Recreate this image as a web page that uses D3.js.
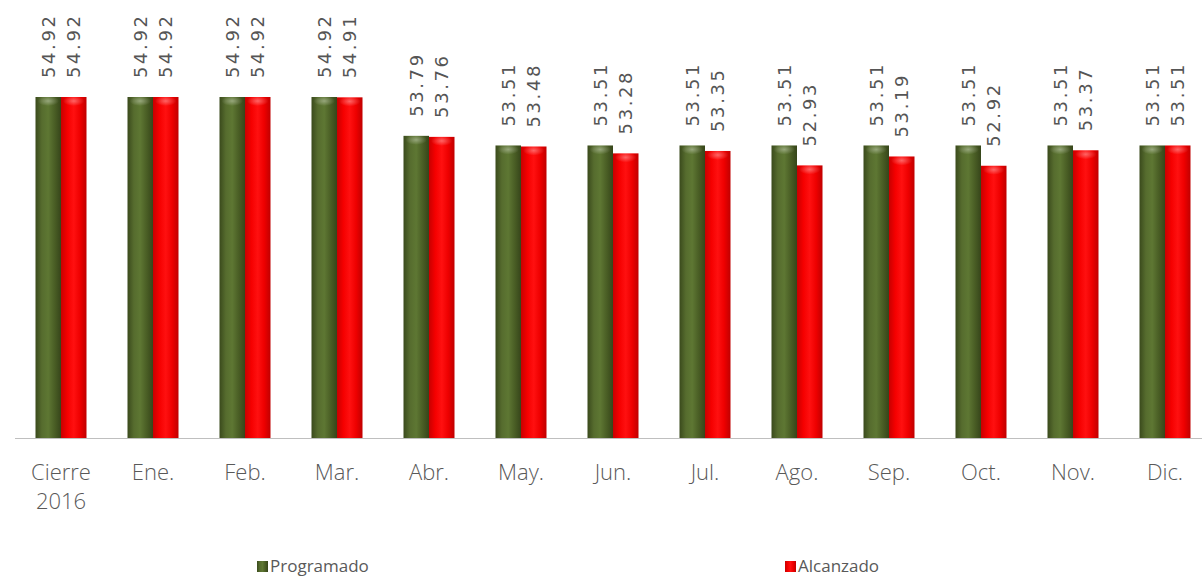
<!DOCTYPE html>
<html>
<head>
<meta charset="utf-8">
<script src="https://cdn.jsdelivr.net/npm/d3@7"></script>
<style>
  body { margin: 0; background: #fff; }
  svg { display: block; }
</style>
</head>
<body>
<div class="chart"></div>
<script>
// chart data
const categories = ["Cierre\n2016", "Ene.", "Feb.", "Mar.", "Abr.", "May.", "Jun.", "Jul.", "Ago.", "Sep.", "Oct.", "Nov.", "Dic."];
const series = ["Programado", "Alcanzado"];
const programado = [54.92, 54.92, 54.92, 54.92, 53.79, 53.51, 53.51, 53.51, 53.51, 53.51, 53.51, 53.51, 53.51];
const alcanzado = [54.92, 54.92, 54.92, 54.91, 53.76, 53.48, 53.28, 53.35, 52.93, 53.19, 52.92, 53.37, 53.51];
const labelsProgramado = ["54.92", "54.92", "54.92", "54.92", "53.79", "53.51", "53.51", "53.51", "53.51", "53.51", "53.51", "53.51", "53.51"];
const labelsAlcanzado = ["54.92", "54.92", "54.92", "54.91", "53.76", "53.48", "53.28", "53.35", "52.93", "53.19", "52.92", "53.37", "53.51"];

const w = 1202, h = 576;
const baseY = 438;

// scales
const xScale = d3.scaleBand()
    .domain(categories)
    .range([15, 1211])
    .padding(0);

const barW = 25.5;
const x1 = d3.scaleBand()
    .domain(series)
    .range([xScale.bandwidth() / 2 - barW, xScale.bandwidth() / 2 + barW]);

const yScale = d3.scaleLinear()
    .domain([45, 57])
    .range([baseY, baseY - 12 * 34.375]);

const svg = d3.select("div.chart")
    .append("svg")
    .attr("width", w)
    .attr("height", h);

// gradients for the cylinder look
const defs = svg.append("defs");
const grads = [
    { id: "gGreen", stops: ["#3a4a1c", "#566c2e", "#5e7733", "#4a5e25", "#36451a"] },
    { id: "gRed", stops: ["#c80000", "#f50000", "#ff1010", "#ee0000", "#c00000"] }
];
grads.forEach(g => {
    const lg = defs.append("linearGradient").attr("id", g.id)
        .attr("x1", "0%").attr("x2", "100%").attr("y1", "0%").attr("y2", "0%");
    g.stops.forEach((c, i) => lg.append("stop")
        .attr("offset", (i * 25) + "%")
        .attr("stop-color", c));
});
const hl = defs.append("radialGradient").attr("id", "gTop");
hl.append("stop").attr("offset", "0%").attr("stop-color", "#fff").attr("stop-opacity", 0.35);
hl.append("stop").attr("offset", "100%").attr("stop-color", "#fff").attr("stop-opacity", 0);

// axis line
svg.append("line")
    .attr("x1", 15).attr("x2", w)
    .attr("y1", baseY + 0.5).attr("y2", baseY + 0.5)
    .attr("stroke", "#bfbfbf")
    .attr("stroke-width", 1.2);

const rows = categories.map((c, i) => ({
    cat: c,
    vals: [
        { s: "Programado", v: programado[i], lab: labelsProgramado[i], fill: "url(#gGreen)" },
        { s: "Alcanzado", v: alcanzado[i], lab: labelsAlcanzado[i], fill: "url(#gRed)" }
    ]
}));

const groups = svg.selectAll("g.cat")
    .data(rows)
    .enter()
    .append("g")
    .attr("class", "cat")
    .attr("transform", d => "translate(" + xScale(d.cat) + ",0)");

const bars = groups.selectAll("g.bar")
    .data(d => d.vals)
    .enter()
    .append("g")
    .attr("class", "bar");

bars.append("rect")
    .attr("x", d => x1(d.s))
    .attr("y", d => yScale(d.v))
    .attr("width", x1.bandwidth())
    .attr("height", d => baseY - yScale(d.v))
    .attr("fill", d => d.fill);

// top highlight
bars.append("ellipse")
    .attr("cx", d => x1(d.s) + x1.bandwidth() / 2)
    .attr("cy", d => yScale(d.v) + 4)
    .attr("rx", x1.bandwidth() / 2 - 2)
    .attr("ry", 5)
    .attr("fill", "url(#gTop)");

// value labels, rotated
bars.append("text")
    .attr("transform", d => "translate(" + (x1(d.s) + x1.bandwidth() / 2) + "," + (yScale(d.v) - 19) + ") rotate(-90)")
    .attr("dominant-baseline", "central")
    .attr("text-anchor", "start")
    .attr("font-family", "DejaVu Sans")
    .attr("font-size", 18)
    .attr("letter-spacing", 2.6)
    .attr("fill", "#555555")
    .text(d => d.lab);

// category labels
groups.append("text")
    .attr("x", xScale.bandwidth() / 2)
    .attr("y", 480)
    .attr("text-anchor", "middle")
    .attr("font-family", "Open Sans")
    .attr("font-weight", 300)
    .attr("font-size", 22)
    .attr("fill", "#595959")
    .selectAll("tspan")
    .data(d => d.cat.split("\n"))
    .enter()
    .append("tspan")
    .attr("x", xScale.bandwidth() / 2)
    .attr("dy", (d, i) => i === 0 ? 0 : 29)
    .text(d => d);

// legend
const legendX = [257, 785];
const legend = svg.selectAll("g.legend")
    .data(series)
    .enter()
    .append("g")
    .attr("class", "legend")
    .attr("transform", (d, i) => "translate(" + legendX[i] + ",561)");

legend.append("rect")
    .attr("width", 11)
    .attr("height", 11)
    .attr("fill", (d, i) => i === 0 ? "url(#gGreen)" : "url(#gRed)");

legend.append("text")
    .attr("x", 13)
    .attr("y", 11)
    .attr("font-family", "Open Sans")
    .attr("font-size", 17)
    .attr("fill", "#595959")
    .text(d => d);
</script>
</body>
</html>
